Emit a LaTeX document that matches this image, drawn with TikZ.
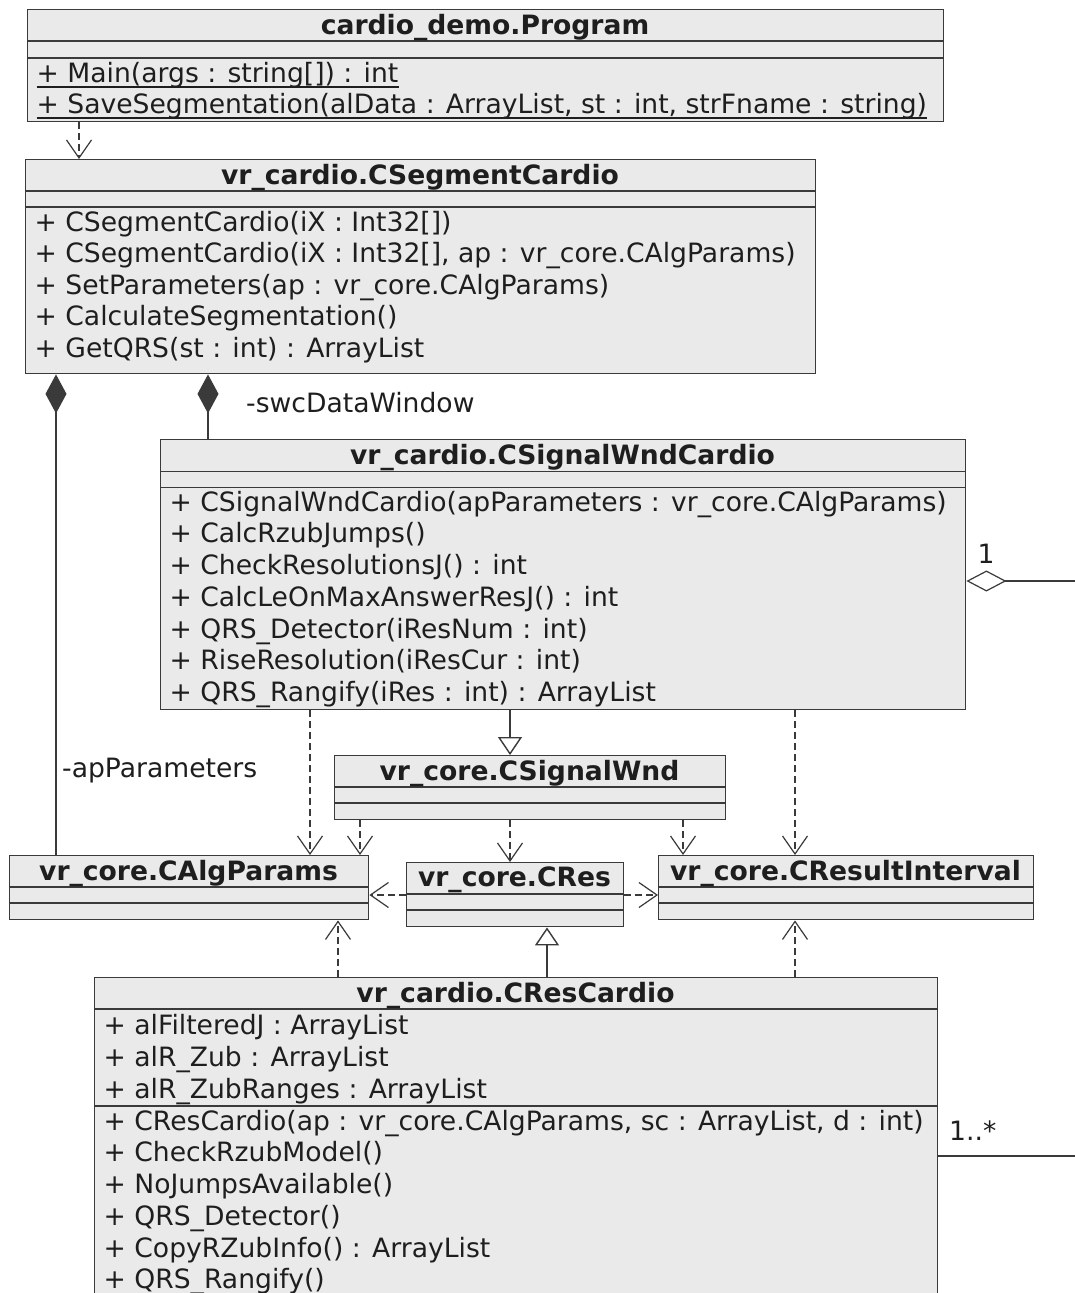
\documentclass[tikz,border=0pt]{standalone}
\usepackage{fontspec}
\setmainfont{DejaVu Sans}
\usetikzlibrary{arrows.meta}
\definecolor{linec}{HTML}{3A3A3A}
\definecolor{boxfill}{HTML}{EAEAEA}
\definecolor{txtc}{HTML}{1E1E1E}
\begin{document}
\begin{tikzpicture}[x=1pt,y=-1pt,
  cls/.style={draw=linec, fill=boxfill, line width=1.4pt, inner sep=0pt, anchor=north west},
  sep/.style={draw=linec, line width=1.4pt},
  ttl/.style={font=\fontsize{26.6pt}{31.75pt}\selectfont\bfseries, text=txtc, inner sep=0pt, anchor=base},
  txt/.style={font=\fontsize{26.6pt}{31.75pt}\selectfont, text=txtc, inner sep=0pt, anchor=base west},
  dep/.style={draw=linec, line width=1.2pt, dash pattern=on 7pt off 4pt, -{Straight Barb[length=18pt,width=25pt]}},
  comp/.style={draw=linec, fill=linec, line width=1.4pt, {Diamond[length=39pt,width=21pt]}-},
  aggr/.style={draw=linec, line width=1.2pt, {Diamond[open,fill=white,length=40pt,width=21pt]}-},
  gen/.style={draw=linec, line width=1.4pt, -{Triangle[open,fill=white,length=18pt,width=24pt]}},
  assoc/.style={draw=linec, line width=1.4pt},
]
\useasboundingbox (0,0) rectangle (1075,1293);
\fill[white] (0,0) rectangle (1075,1293);
\clip (0,0) rectangle (1075,1293);

% ---- cardio_demo.Program
\node[cls, minimum width=916pt, minimum height=112pt] (prog) at (27,9) {};
\draw[sep] (prog.west |- 0,41) -- (prog.east |- 0,41);
\draw[sep] (prog.west |- 0,58) -- (prog.east |- 0,58);
\node[ttl] (prog-t) at (485,34) {cardio\_demo.Program};
\node[txt] (prog-m0) at (36.5,82) {+ Main(args : string[]) : int};
\node[txt] (prog-m1) at (36.5,113) {+ SaveSegmentation(alData : ArrayList, st : int, strFname : string)};
\draw[txtc, line width=1.3pt] ([yshift=-5pt]prog-m0.base west) -- ([yshift=-5pt]prog-m0.base east);
\draw[txtc, line width=1.3pt] ([yshift=-5pt]prog-m1.base west) -- ([yshift=-5pt]prog-m1.base east);

% ---- vr_cardio.CSegmentCardio
\node[cls, minimum width=790pt, minimum height=214pt] (seg) at (25,159) {};
\draw[sep] (seg.west |- 0,191) -- (seg.east |- 0,191);
\draw[sep] (seg.west |- 0,207) -- (seg.east |- 0,207);
\node[ttl] (seg-t) at (420,184) {vr\_cardio.CSegmentCardio};
\foreach \mtext [count=\i from 0] in {%
  {+ CSegmentCardio(iX : Int32[])},%
  {+ CSegmentCardio(iX : Int32[], ap : vr\_core.CAlgParams)},%
  {+ SetParameters(ap : vr\_core.CAlgParams)},%
  {+ CalculateSegmentation()},%
  {+ GetQRS(st : int) : ArrayList}}
  \node[txt] (seg-m\i) at (34.5,231+\i*31.5) {\mtext};

% ---- vr_cardio.CSignalWndCardio
\node[cls, minimum width=805pt, minimum height=270pt] (swc) at (160,439) {};
\draw[sep] (swc.west |- 0,471.5) -- (swc.east |- 0,471.5);
\draw[sep] (swc.west |- 0,487.5) -- (swc.east |- 0,487.5);
\node[ttl] (swc-t) at (562.5,464) {vr\_cardio.CSignalWndCardio};
\foreach \mtext [count=\i from 0] in {%
  {+ CSignalWndCardio(apParameters : vr\_core.CAlgParams)},%
  {+ CalcRzubJumps()},%
  {+ CheckResolutionsJ() : int},%
  {+ CalcLeOnMaxAnswerResJ() : int},%
  {+ QRS\_Detector(iResNum : int)},%
  {+ RiseResolution(iResCur : int)},%
  {+ QRS\_Rangify(iRes : int) : ArrayList}}
  \node[txt] (swc-m\i) at (169.5,511+\i*31.75) {\mtext};

% ---- vr_core.CSignalWnd
\node[cls, minimum width=391pt, minimum height=64pt] (sw) at (334,755) {};
\draw[sep] (sw.west |- 0,787) -- (sw.east |- 0,787);
\draw[sep] (sw.west |- 0,803) -- (sw.east |- 0,803);
\node[ttl] (sw-t) at (529.5,780) {vr\_core.CSignalWnd};

% ---- vr_core.CAlgParams
\node[cls, minimum width=359pt, minimum height=64pt] (alg) at (9,855) {};
\draw[sep] (alg.west |- 0,887) -- (alg.east |- 0,887);
\draw[sep] (alg.west |- 0,903) -- (alg.east |- 0,903);
\node[ttl] (alg-t) at (188.5,880) {vr\_core.CAlgParams};

% ---- vr_core.CRes
\node[cls, minimum width=217pt, minimum height=64pt] (crs) at (406,862) {};
\draw[sep] (crs.west |- 0,894) -- (crs.east |- 0,894);
\draw[sep] (crs.west |- 0,910) -- (crs.east |- 0,910);
\node[ttl] (crs-t) at (514.5,886) {vr\_core.CRes};

% ---- vr_core.CResultInterval
\node[cls, minimum width=375pt, minimum height=64pt] (cri) at (658,855) {};
\draw[sep] (cri.west |- 0,887) -- (cri.east |- 0,887);
\draw[sep] (cri.west |- 0,903) -- (cri.east |- 0,903);
\node[ttl] (cri-t) at (845.5,880) {vr\_core.CResultInterval};

% ---- vr_cardio.CResCardio
\node[cls, minimum width=843pt, minimum height=400pt] (crc) at (94,977) {};
\draw[sep] (crc.west |- 0,1009) -- (crc.east |- 0,1009);
\draw[sep] (crc.west |- 0,1106) -- (crc.east |- 0,1106);
\node[ttl] (crc-t) at (515.5,1002) {vr\_cardio.CResCardio};
\foreach \mtext [count=\i from 0] in {%
  {+ alFilteredJ : ArrayList},%
  {+ alR\_Zub : ArrayList},%
  {+ alR\_ZubRanges : ArrayList}}
  \node[txt] (crc-a\i) at (103.5,1034+\i*32) {\mtext};
\foreach \mtext [count=\i from 0] in {%
  {+ CResCardio(ap : vr\_core.CAlgParams, sc : ArrayList, d : int)},%
  {+ CheckRzubModel()},%
  {+ NoJumpsAvailable()},%
  {+ QRS\_Detector()},%
  {+ CopyRZubInfo() : ArrayList},%
  {+ QRS\_Rangify()}}
  \node[txt] (crc-m\i) at (103.5,1130+\i*31.75) {\mtext};

% ---- connectors
\draw[dep] (79,0 |- prog.south) -- (79,0 |- seg.north);
\draw[comp] (56,0 |- seg.south) -- (56,0 |- alg.north);
\draw[comp] (208,0 |- seg.south) -- (208,0 |- swc.north);
\node[txt] (lbl-swc) at (246,412) {-swcDataWindow};
\node[txt] (lbl-ap) at (62,777) {-apParameters};

\coordinate (aggEnd) at (1075,581);
\draw[aggr] (swc.east |- aggEnd) -- (aggEnd);
\node[txt, anchor=base] (lbl-one) at (986,563) {1};

\draw[gen] (510,0 |- swc.south) -- (510,0 |- sw.north);
\draw[dep] (310,0 |- swc.south) -- (310,0 |- alg.north);
\draw[dep] (795,0 |- swc.south) -- (795,0 |- cri.north);
\draw[dep] (360,0 |- sw.south) -- (360,0 |- alg.north);
\draw[dep] (510,0 |- sw.south) -- (510,0 |- crs.north);
\draw[dep] (683,0 |- sw.south) -- (683,0 |- cri.north);
\draw[dep] (crs.west |- 0,895) -- (alg.east |- 0,895);
\draw[dep] (crs.east |- 0,895) -- (cri.west |- 0,895);
\draw[dep] (338,0 |- crc.north) -- (338,0 |- alg.south);
\draw[dep] (795,0 |- crc.north) -- (795,0 |- cri.south);
\draw[gen] (547,0 |- crc.north) -- (547,0 |- crs.south);

\coordinate (assEnd) at (1075,1156);
\draw[assoc] (crc.east |- assEnd) -- (assEnd);
\node[txt] (lbl-many) at (949,1140) {1..*};
\end{tikzpicture}
\end{document}
